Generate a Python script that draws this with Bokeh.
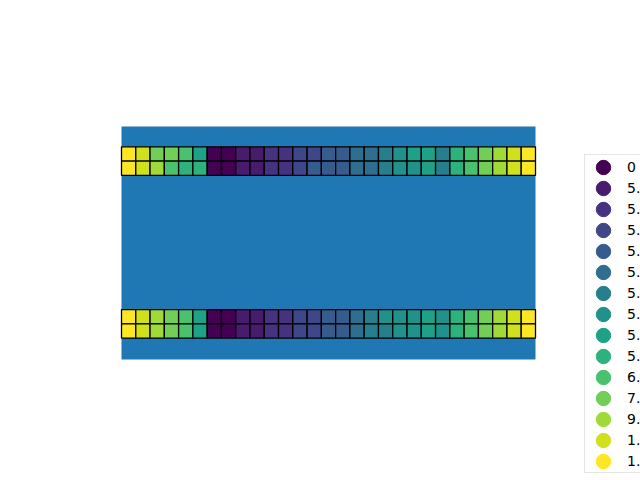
import numpy as np
from bokeh.plotting import figure
from bokeh.models import ColumnDataSource, Legend, LegendItem, Range1d
from bokeh.embed import file_html
from bokeh.resources import INLINE

# 15-level viridis palette used by the legend classes
palette = ["#440154", "#481b6d", "#46327e", "#3f4788", "#365c8d", "#2e6e8e",
           "#277f8e", "#21918c", "#1fa187", "#2db27d", "#4ac16d", "#71cf57",
           "#a0da39", "#d0e11c", "#fde725"]
# legend labels as visible in the reference (cut at the window edge there)
legend_labels = ["0", "5.", "5.", "5.", "5.", "5.", "5.", "5.",
                 "5.", "5.", "6.", "7.", "9.", "1.", "1."]

# class index of each cell, 29 columns per row
row_top_a = [14, 13, 11, 11, 10, 8, 0, 0, 1, 1, 2, 2, 3, 3, 4, 4, 5, 5, 6, 7, 8, 8, 6, 9, 10, 11, 12, 13, 14]
row_top_b = [14, 13, 12, 10, 9, 9, 0, 0, 1, 1, 2, 2, 3, 4, 4, 4, 5, 5, 6, 7, 7, 8, 6, 9, 10, 11, 12, 13, 14]
row_bot_a = [14, 13, 12, 11, 10, 8, 0, 0, 1, 1, 2, 2, 3, 3, 4, 4, 5, 6, 7, 7, 7, 8, 7, 9, 10, 11, 12, 13, 14]
row_bot_b = [14, 13, 12, 11, 10, 8, 0, 0, 1, 1, 2, 2, 3, 3, 4, 4, 5, 6, 6, 7, 7, 8, 7, 9, 10, 11, 12, 13, 14]
rows = [row_top_a, row_top_b, row_bot_a, row_bot_b]
row_y = [14.4, 13.4, 3.0, 2.0]
col_x = [c + 0.5 for c in range(29)]

# extent of the (blue) axes area in data units
area_x = [0, 29]
area_y = [0, 16.32]

W, H = 640, 480
px = 14.276               # pixels per data unit
left_px, bottom_px = 121, 121   # position of the axes area in the window

xs, ys, cols = [], [], []
for r, yv in zip(rows, row_y):
    for xv, k in zip(col_x, r):
        xs.append(xv)
        ys.append(yv)
        cols.append(palette[k])
src = ColumnDataSource(dict(x=xs, y=ys, color=cols))

p = figure(width=W, height=H,
           x_range=Range1d(-left_px / px, (W - left_px) / px),
           y_range=Range1d(-bottom_px / px, (H - bottom_px) / px),
           output_backend="svg", toolbar_location=None,
           x_axis_location=None, y_axis_location=None,
           min_border=0, min_border_left=0, min_border_right=0,
           min_border_top=0, min_border_bottom=0,
           background_fill_color="white", border_fill_color="white",
           outline_line_color=None)
p.grid.grid_line_color = None

p.quad(left=[area_x[0]], right=[area_x[1]], bottom=[area_y[0]], top=[area_y[1]],
       fill_color="#1f77b4", line_color=None)

p.rect(x="x", y="y", width=1, height=1, fill_color="color",
       line_color="black", line_width=1.3, source=src)

items = []
for c, lbl in zip(palette, legend_labels):
    r = p.ellipse(x=[np.nan], y=[np.nan], width=14, height=14,
                  width_units="screen", height_units="screen",
                  fill_color=c, line_color=c)
    items.append(LegendItem(label=lbl, renderers=[r]))

legend = Legend(items=items, location=(584, 7), glyph_width=34, glyph_height=18,
                label_height=21, spacing=0, padding=1, label_standoff=7, margin=0,
                border_line_color="#cccccc", border_line_width=1,
                background_fill_color="white", background_fill_alpha=0.8,
                label_text_font="DejaVu Sans", label_text_font_size="14px",
                label_text_color="black")
p.add_layout(legend)

open("out.html", "w").write(file_html(p, INLINE))
